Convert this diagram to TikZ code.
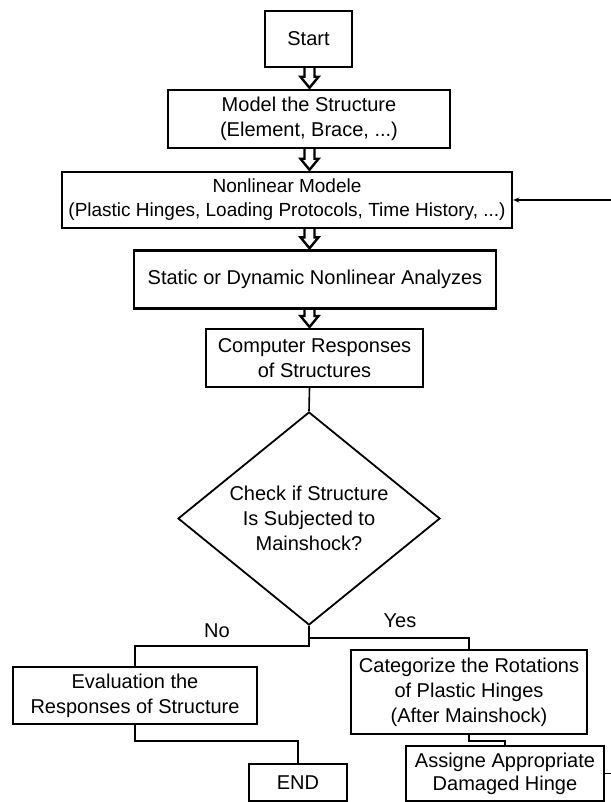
\documentclass[tikz,border=0pt]{standalone}
\usepackage{fontspec}
\setmainfont{Liberation Sans}
\usetikzlibrary{shapes.geometric,calc,arrows.meta}
\newcommand\blockarrow[2]{\draw[blk] let \p1=(#1.south -| ax), \p2=(#2.north -| ax) in
  (\x1-5pt,\y1) -- (\x1-5pt,\y2+12pt) -- (\x1-9pt,\y2+12pt) -- (\x1,\y2+1pt) --
  (\x1+9pt,\y2+12pt) -- (\x1+5pt,\y2+12pt) -- (\x1+5pt,\y1);}
\begin{document}
\begin{tikzpicture}[x=1pt,y=-1pt,
  txt/.style={font=\fontsize{20}{25}\selectfont},
  box/.style={txt, draw, line width=2.4pt, align=center, inner sep=0pt},
  conn/.style={line width=1.6pt},
  blk/.style={line width=2.4pt, line join=miter}]
\useasboundingbox (0,0) rectangle (610,802);
\coordinate (ax) at (309.5,0);
\node[box, minimum width=87, minimum height=56] (start) at (308.5,39) {Start};
\node[box, minimum width=282, minimum height=58] (model) at (309,119) {Model the Structure\\(Element, Brace, ...)};
\node[box, minimum width=450, minimum height=56, font=\fontsize{19}{24}\selectfont] (nonlin) at (287,200) {Nonlinear Modele\\(Plastic Hinges, Loading Protocols, Time History, ...)};
\node[box, minimum width=362, minimum height=58] (static) at (315,279.5) {Static or Dynamic Nonlinear Analyzes};
\node[box, minimum width=217, minimum height=58, line width=2pt] (comp) at (314.5,358) {Computer Responses\\of Structures};
\node[txt, draw, diamond, line width=1.8pt, aspect=1.23, minimum width=262, minimum height=213, inner sep=0pt, align=center] (dia) at (309,518.5) {Check if Structure\\Is Subjected to\\Mainshock?};
\node[box, minimum width=244, minimum height=57] (eval) at (135,695.5) {Evaluation the\\Responses of Structure};
\node[box, minimum width=98, minimum height=37] (end) at (298,782.5) {END};
\node[box, minimum width=236, minimum height=84] (cat) at (469,692) {Categorize the Rotations\\of Plastic Hinges\\(After Mainshock)};
\node[box, minimum width=198, minimum height=55, font=\fontsize{20}{23}\selectfont] (assign) at (505,773.5) {Assigne Appropriate\\Damaged Hinge};
\node[txt] (no) at (217,631) {No};
\node[txt] (yes) at (400,621) {Yes};
\blockarrow{start}{model}
\blockarrow{model}{nonlin}
\blockarrow{nonlin}{static}
\blockarrow{static}{comp}
\draw[conn] (comp.south -| ax) -- (dia.north);
\draw[conn] (dia.south) -- ++(0,20) -| (eval.north);
\draw[conn] ($(dia.south)+(0,12)$) -| (cat.north);
\draw[conn] (eval.south) -- ++(0,16) -| (end.north);
\draw[conn] (cat.south) -- ++(0,6) -| (assign.north);
\coordinate (fb) at (614,773.5);
\draw[conn, -{Stealth[length=6pt,width=5pt]}] (assign.east) -- (fb) |- (nonlin.east);
\end{tikzpicture}
\end{document}
